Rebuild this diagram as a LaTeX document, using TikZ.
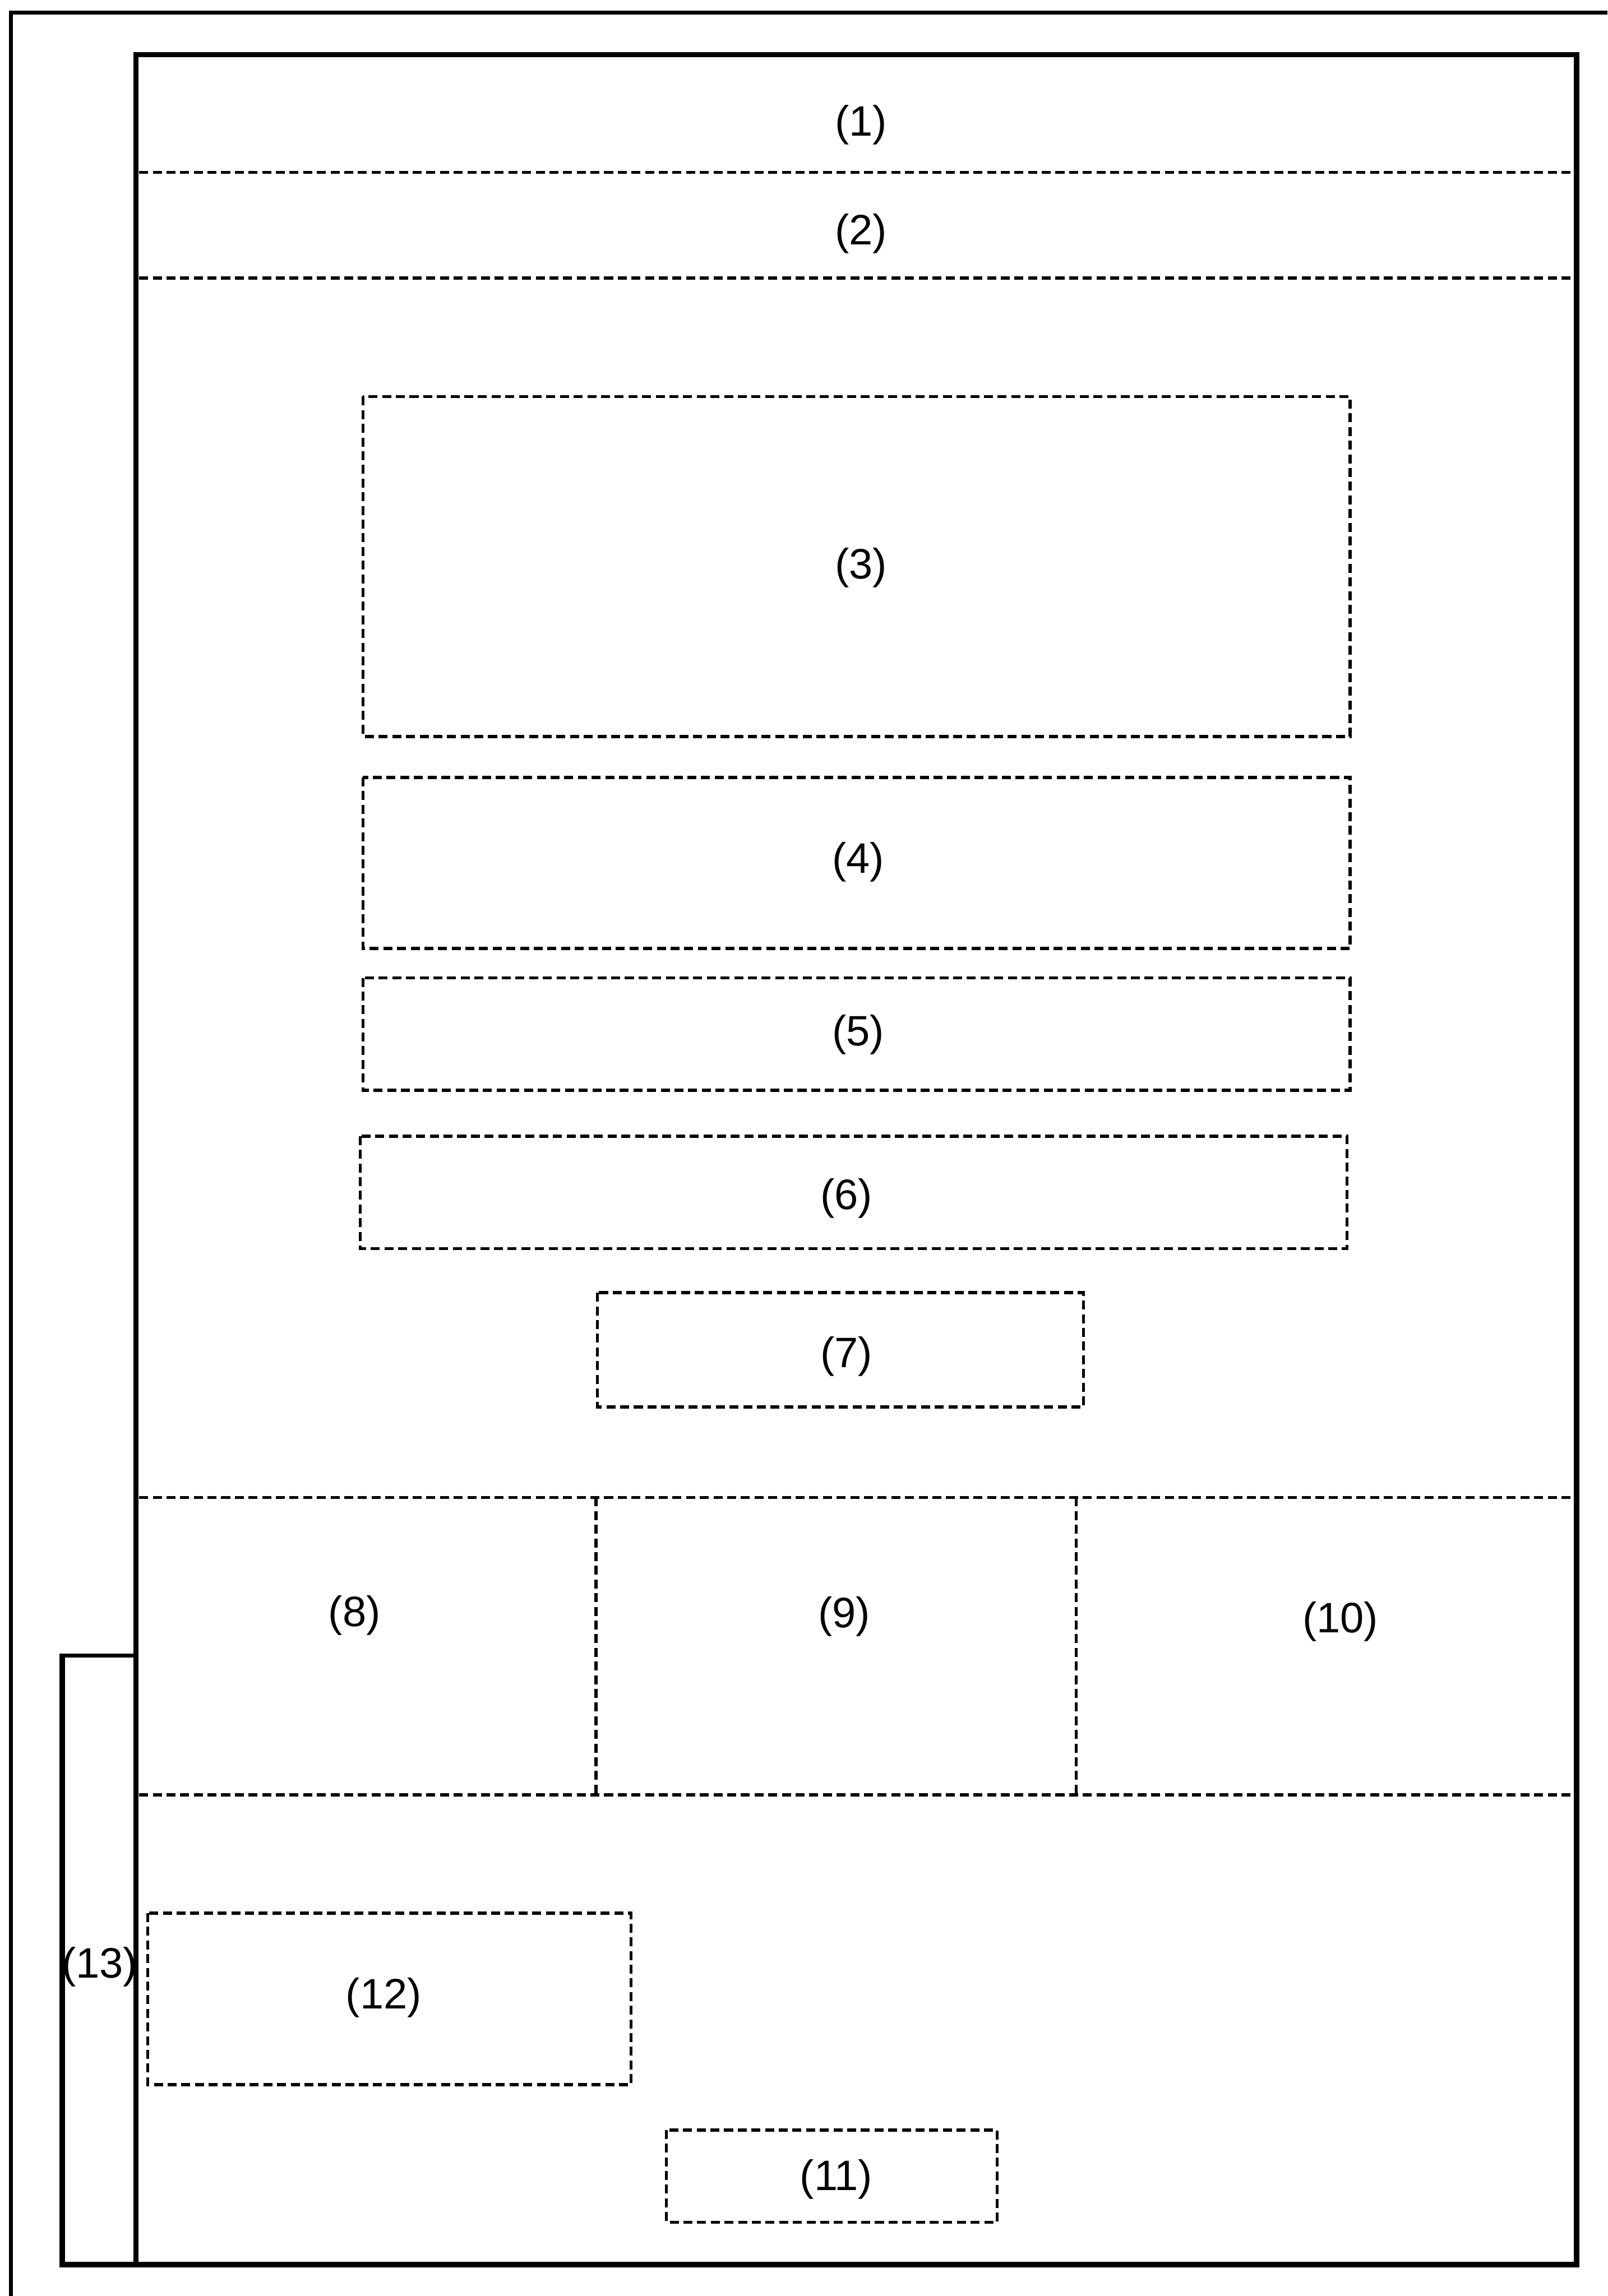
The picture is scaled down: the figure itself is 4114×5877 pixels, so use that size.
\documentclass[tikz,border=0pt]{standalone}
\usepackage{fontspec}
\setmainfont{Liberation Sans}

\begin{document}
\begin{tikzpicture}[x=0.1mm, y=-0.1mm,
    frameline/.style={line width=1.4mm},
    thinline/.style={line width=1mm},
    dashline/.style={line width=0.8mm, dash pattern=on 2.3mm off 1.2mm},
    lbl/.style={inner sep=0pt, font=\fontsize{31}{37}\selectfont}]

      % --- Page Size (in px of the sheet) ---
      \useasboundingbox (0,0) rectangle (4114,5877);

      % --- Define Dimensions ---
      \def\frL{348}
      \def\frR{4035}
      \def\frT{140}
      \def\frB{5797}
      \def\inL{356}
      \def\inR{4028}

      % --- Sheet Edge (Outer L) ---
      \draw[thinline] (28,5877) -- (28,32) -- (4114,32);

      % --- Main Frame ---
      \draw[frameline] (\frL,\frT) rectangle (\frR,\frB);

      % --- Side Strip (13) ---
      \draw[frameline] (159,4233) -- (159,\frB) -- (\frL,\frB);
      \draw[thinline] (159,4238) -- (\frL,4238);
      \node[lbl] (strip13) at (255,5035) {(13)};

      % --- Horizontal Band Separators ---
      \foreach \y in {441, 712, 3833, 4594} {
        \draw[dashline] (\inL,\y) -- (\inR,\y);
      }

      % --- Vertical Separators of the Middle Band ---
      \draw[dashline] (1525,3833) -- (1525,4594);
      \draw[dashline] (2754,3833) -- (2754,4594);

      % --- Band Labels ---
      \node[lbl] (band1) at (2203,320) {(1)};
      \node[lbl] (band2) at (2203,598) {(2)};
      \node[lbl] (band8) at (907,4135) {(8)};
      \node[lbl] (band9) at (2160,4138) {(9)};
      \node[lbl] (band10) at (3430,4151) {(10)};

      % --- Dashed Boxes with Labels ---
      \foreach \n/\xa/\ya/\xb/\yb/\lx/\ly in {
          3/929/1015/3455/1885/2203/1453,
          4/929/1990/3455/2428/2196/2206,
          5/929/2503/3455/2791/2196/2648,
          6/922/2908/3447/3196/2166/3068,
          7/1529/3309/2773/3601/2166/3472,
          12/378/4897/1615/5336/982/5113,
          11/1705/5452/2552/5688/2140/5578} {
        \draw[dashline] (\xa,\ya) rectangle (\xb,\yb);
        \node[lbl] (box\n) at (\lx,\ly) {(\n)};
      }

\end{tikzpicture}
\end{document}
